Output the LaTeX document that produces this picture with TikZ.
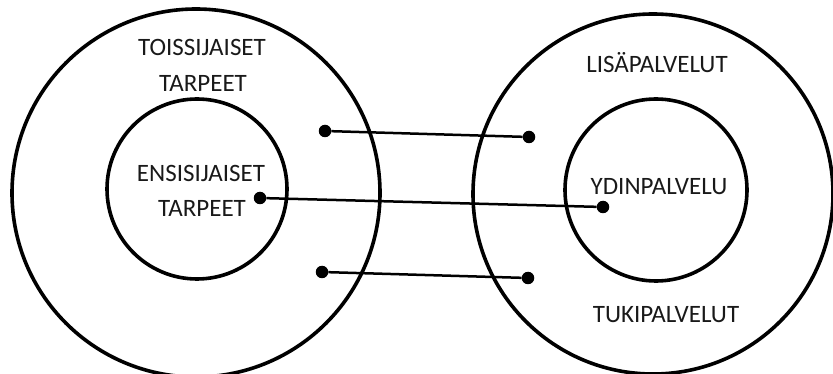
\documentclass[tikz,border=0pt]{standalone}
\usepackage{fontspec}
\setmainfont{Carlito}
\begin{document}
\begin{tikzpicture}[x=1pt,y=-1pt,
  ring/.style={draw,circle,line width=3.6pt,inner sep=0pt},
  dot/.style={circle,fill=black,inner sep=0pt,minimum size=12.5pt},
  lab/.style={font=\fontsize{25}{30}\selectfont,text=black!90,inner sep=0pt,align=center},
  link/.style={line width=2.5pt}]
\useasboundingbox (0,0) rectangle (833,374);
\node[ring,minimum size=368pt] (LO) at (196,193) {};
\node[ring,minimum size=180pt] (LI) at (197,189) {};
\node[ring,minimum size=360pt] (RO) at (653,194) {};
\node[ring,minimum size=182pt] (RI) at (656,190) {};
\node[lab] (t1) at (202,47) {TOISSIJAISET};
\node[lab] (t2) at (203,83) {TARPEET};
\node[lab] (e1) at (201,173) {ENSISIJAISET};
\node[lab] (e2) at (202,208) {TARPEET};
\node[lab] (l1) at (657,63) {LISÄPALVELUT};
\node[lab] (y1) at (659,187) {YDINPALVELU};
\node[lab] (k1) at (666,315) {TUKIPALVELUT};
\node[dot] (a1) at (325,131) {};
\node[dot] (a2) at (529,137) {};
\node[dot] (b1) at (260,198) {};
\node[dot] (b2) at (603,207) {};
\node[dot] (c1) at (322,272) {};
\node[dot] (c2) at (528,278) {};
\draw[link] (a1) -- (a2);
\draw[link] (b1) -- (b2);
\draw[link] (c1) -- (c2);
\end{tikzpicture}
\end{document}
